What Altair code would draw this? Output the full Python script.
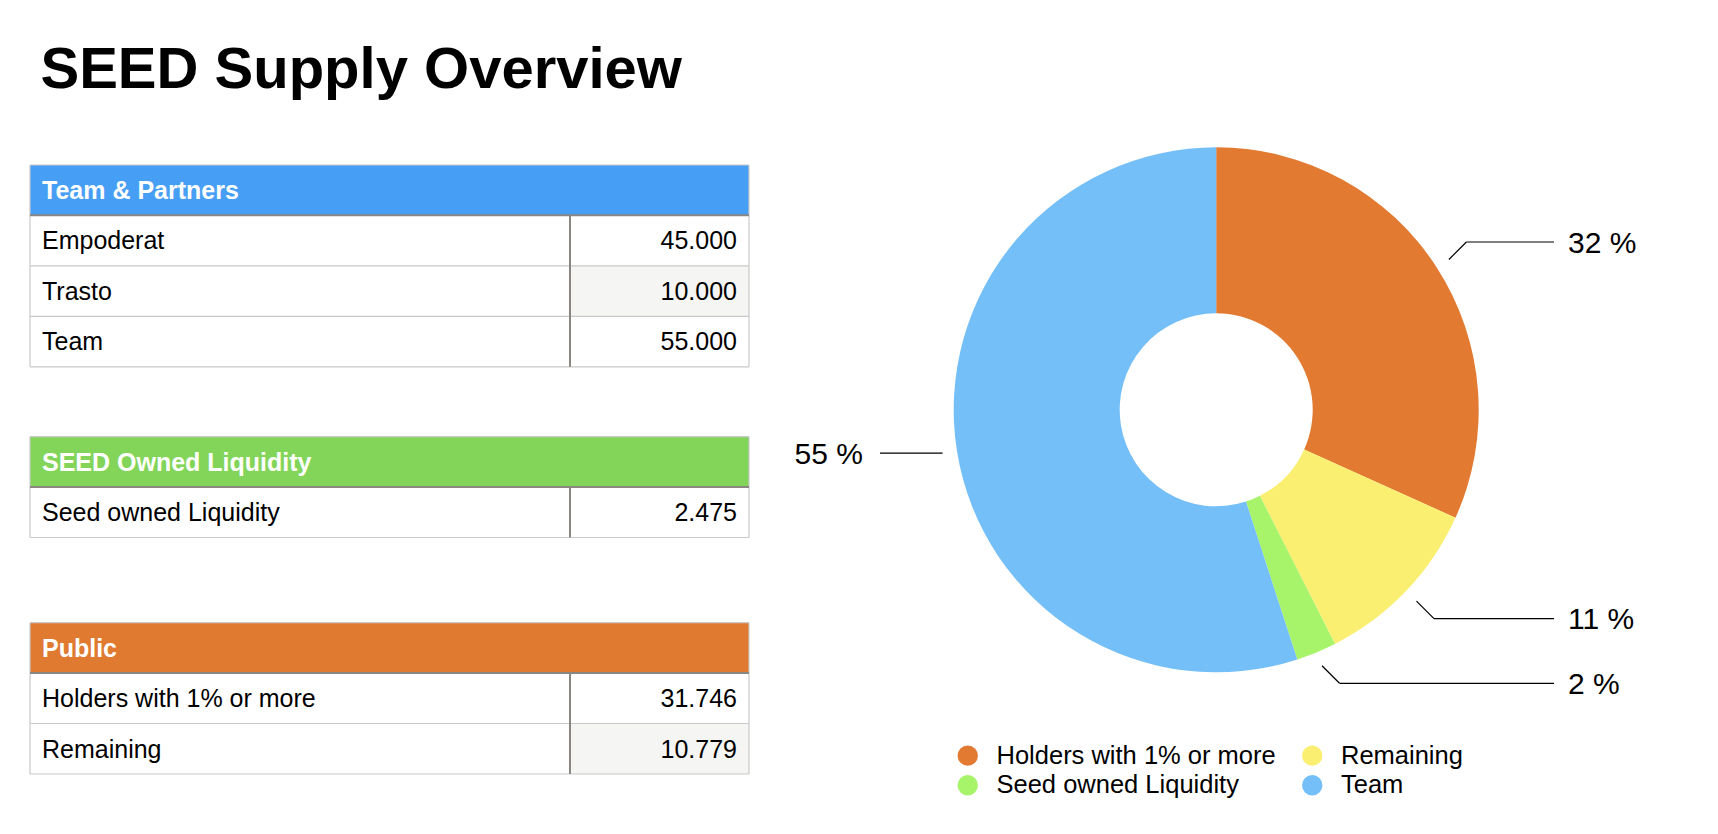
import math
import altair as alt
import pandas as pd

# ---------------- data ----------------
TITLE = "SEED Supply Overview"

GROUP_NAMES = ["Team & Partners", "SEED Owned Liquidity", "Public"]
GROUP_COLORS = ["#479EF5", "#83D55A", "#E07A31"]
GROUP_ROW_LABELS = [
    ["Empoderat", "Trasto", "Team"],
    ["Seed owned Liquidity"],
    ["Holders with 1% or more", "Remaining"],
]
GROUP_ROW_VALUES = [
    [45.000, 10.000, 55.000],
    [2.475],
    [31.746, 10.779],
]

PIE_CATEGORIES = ["Holders with 1% or more", "Remaining", "Seed owned Liquidity", "Team"]
PIE_VALUES = [31.746, 10.779, 2.475, 55.000]
PIE_COLORS = ["#E27A31", "#FBEF72", "#A7F46A", "#74BFF8"]
LEGEND_ORDER = ["Holders with 1% or more", "Seed owned Liquidity", "Remaining", "Team"]

# ---------------- layout (page pixels) ----------------
FONT = "Liberation Sans"
OFF = 8
W, H = 1702, 818

T_LEFT, T_RIGHT, T_DIV = 30, 749, 570
T_TOPS = [165, 436.7, 622.7]
HEAD_H = 50.3
ROW_H = 50.5
LIGHT = "#C9C9C9"
DARK = "#8A8682"
ZEBRA = "#F5F5F3"

CX, CY = 1216.2, 409.8
R_OUT, R_IN = 262.5, 96.5


def X(f="x"):
    return alt.X(f"{f}:Q", scale=alt.Scale(domain=[OFF, OFF + W], nice=False, zero=False), axis=None)


def Y(f="y"):
    return alt.Y(f"{f}:Q", scale=alt.Scale(domain=[OFF, OFF + H], nice=False, zero=False, reverse=True), axis=None)


rects, rules, head_txt, lab_txt, val_txt = [], [], [], [], []
for g, top in enumerate(T_TOPS):
    n = len(GROUP_ROW_LABELS[g])
    hb = top + HEAD_H
    bottom = hb + n * ROW_H
    rects.append(dict(x=T_LEFT, x2=T_RIGHT, y=top, y2=hb, fill=GROUP_COLORS[g]))
    head_txt.append(dict(x=T_LEFT + 12, y=top + HEAD_H / 2 + 8.8, text=GROUP_NAMES[g]))
    for r in range(n):
        rt = hb + r * ROW_H
        if r % 2 == 1:
            rects.append(dict(x=T_DIV, x2=T_RIGHT, y=rt, y2=rt + ROW_H, fill=ZEBRA))
        lab_txt.append(dict(x=T_LEFT + 12, y=rt + ROW_H / 2 + 8.8, text=GROUP_ROW_LABELS[g][r]))
        val_txt.append(dict(x=T_RIGHT - 12, y=rt + ROW_H / 2 + 8.8, text=f"{GROUP_ROW_VALUES[g][r]:.3f}"))
        if r < n - 1:
            rules.append(dict(x=T_LEFT, x2=T_RIGHT, y=rt + ROW_H, y2=rt + ROW_H, stroke=LIGHT, sw=1.2))
    rules += [
        dict(x=T_LEFT, x2=T_RIGHT, y=top, y2=top, stroke=LIGHT, sw=1.2),
        dict(x=T_LEFT, x2=T_RIGHT, y=bottom, y2=bottom, stroke=LIGHT, sw=1.2),
        dict(x=T_LEFT, x2=T_LEFT, y=top, y2=bottom, stroke=LIGHT, sw=1.2),
        dict(x=T_RIGHT, x2=T_RIGHT, y=top, y2=bottom, stroke=LIGHT, sw=1.2),
        dict(x=T_LEFT, x2=T_RIGHT, y=hb, y2=hb, stroke=DARK, sw=2),
        dict(x=T_DIV, x2=T_DIV, y=hb, y2=bottom, stroke=DARK, sw=2),
    ]

# pie leader lines & labels derived from the values
total = sum(PIE_VALUES)
cum = 0.0
lead_rules, lab_right, lab_left = [], [], []
for cat, v in zip(PIE_CATEGORIES, PIE_VALUES):
    a0 = cum / total * 2 * math.pi
    cum += v
    a1 = cum / total * 2 * math.pi
    mid = (a0 + a1) / 2
    s, c = math.sin(mid), math.cos(mid)
    sx, sy = CX + 277 * s, CY - 277 * c
    if abs(c) > 0.3:
        ex = sx + 17.5 * (1 if s > 0 else -1)
        ey = sy - 17.5 * (1 if c > 0 else -1)
    else:
        ex, ey = sx, sy
    endx = 1554 if s > 0 else 880
    lead_rules.append(dict(x=sx, x2=ex, y=sy, y2=ey, stroke="#000000", sw=1.2))
    lead_rules.append(dict(x=ex, x2=endx, y=ey, y2=ey, stroke="#000000", sw=1.2))
    label = f"{round(v / total * 100)} %"
    if s > 0:
        lab_right.append(dict(x=1568, y=ey + 1.5, text=label))
    else:
        lab_left.append(dict(x=863, y=ey + 1.5, text=label))

pie_df = pd.DataFrame(dict(category=PIE_CATEGORIES, value=PIE_VALUES, order=list(range(len(PIE_VALUES)))))
legend_colors = [PIE_COLORS[PIE_CATEGORIES.index(c)] for c in LEGEND_ORDER]

rect_layer = alt.Chart(pd.DataFrame(rects)).mark_rect().encode(
    x=X(), x2=alt.X2("x2:Q"), y=Y(), y2=alt.Y2("y2:Q"),
    fill=alt.Fill("fill:N", scale=None),
)
rule_layer = alt.Chart(pd.DataFrame(rules + lead_rules)).mark_rule().encode(
    x=X(), x2=alt.X2("x2:Q"), y=Y(), y2=alt.Y2("y2:Q"),
    stroke=alt.Stroke("stroke:N", scale=None),
    strokeWidth=alt.StrokeWidth("sw:Q", scale=None),
)


def text_layer(rows, align, size, weight, color, baseline="alphabetic"):
    return alt.Chart(pd.DataFrame(rows)).mark_text(
        align=align, baseline=baseline, font=FONT, fontSize=size, fontWeight=weight, color=color
    ).encode(x=X(), y=Y(), text="text:N")


title_layer = text_layer([dict(x=40.5, y=88, text=TITLE)], "left", 58, "bold", "#000000")
head_layer = text_layer(head_txt, "left", 25, "bold", "#FFFFFF")
lab_layer = text_layer(lab_txt, "left", 25, "normal", "#000000")
val_layer = text_layer(val_txt, "right", 25, "normal", "#000000")
pr_layer = text_layer(lab_right, "left", 30, "normal", "#000000", "middle")
pl_layer = text_layer(lab_left, "right", 30, "normal", "#000000", "middle")

arc_layer = alt.Chart(pie_df).mark_arc(innerRadius=R_IN, outerRadius=R_OUT).encode(
    theta=alt.Theta("value:Q", stack=True),
    order=alt.Order("order:Q"),
    color=alt.Color(
        "category:N",
        scale=alt.Scale(domain=LEGEND_ORDER, range=legend_colors),
        legend=alt.Legend(
            orient="none", legendX=955 - OFF, legendY=742.5 - OFF, columns=2, title=None,
            symbolType="circle", symbolSize=415, symbolStrokeWidth=0,
            labelFont=FONT, labelFontSize=25.5, labelColor="#000000", labelOffset=16,
            columnPadding=23.5, rowPadding=3, padding=0, labelLimit=400,
        ),
    ),
    x=alt.value(CX - OFF),
    y=alt.value(CY - OFF),
)

chart = alt.layer(
    rect_layer, rule_layer, arc_layer, title_layer, head_layer, lab_layer, val_layer, pr_layer, pl_layer
).resolve_scale(color="independent", fill="independent", stroke="independent").properties(
    width=W, height=H, autosize=alt.AutoSizeParams(type="none"), padding=0, background="#FFFFFF"
).configure_view(stroke=None)

chart.save("out.html", embed_options={"renderer": "svg", "actions": False})
